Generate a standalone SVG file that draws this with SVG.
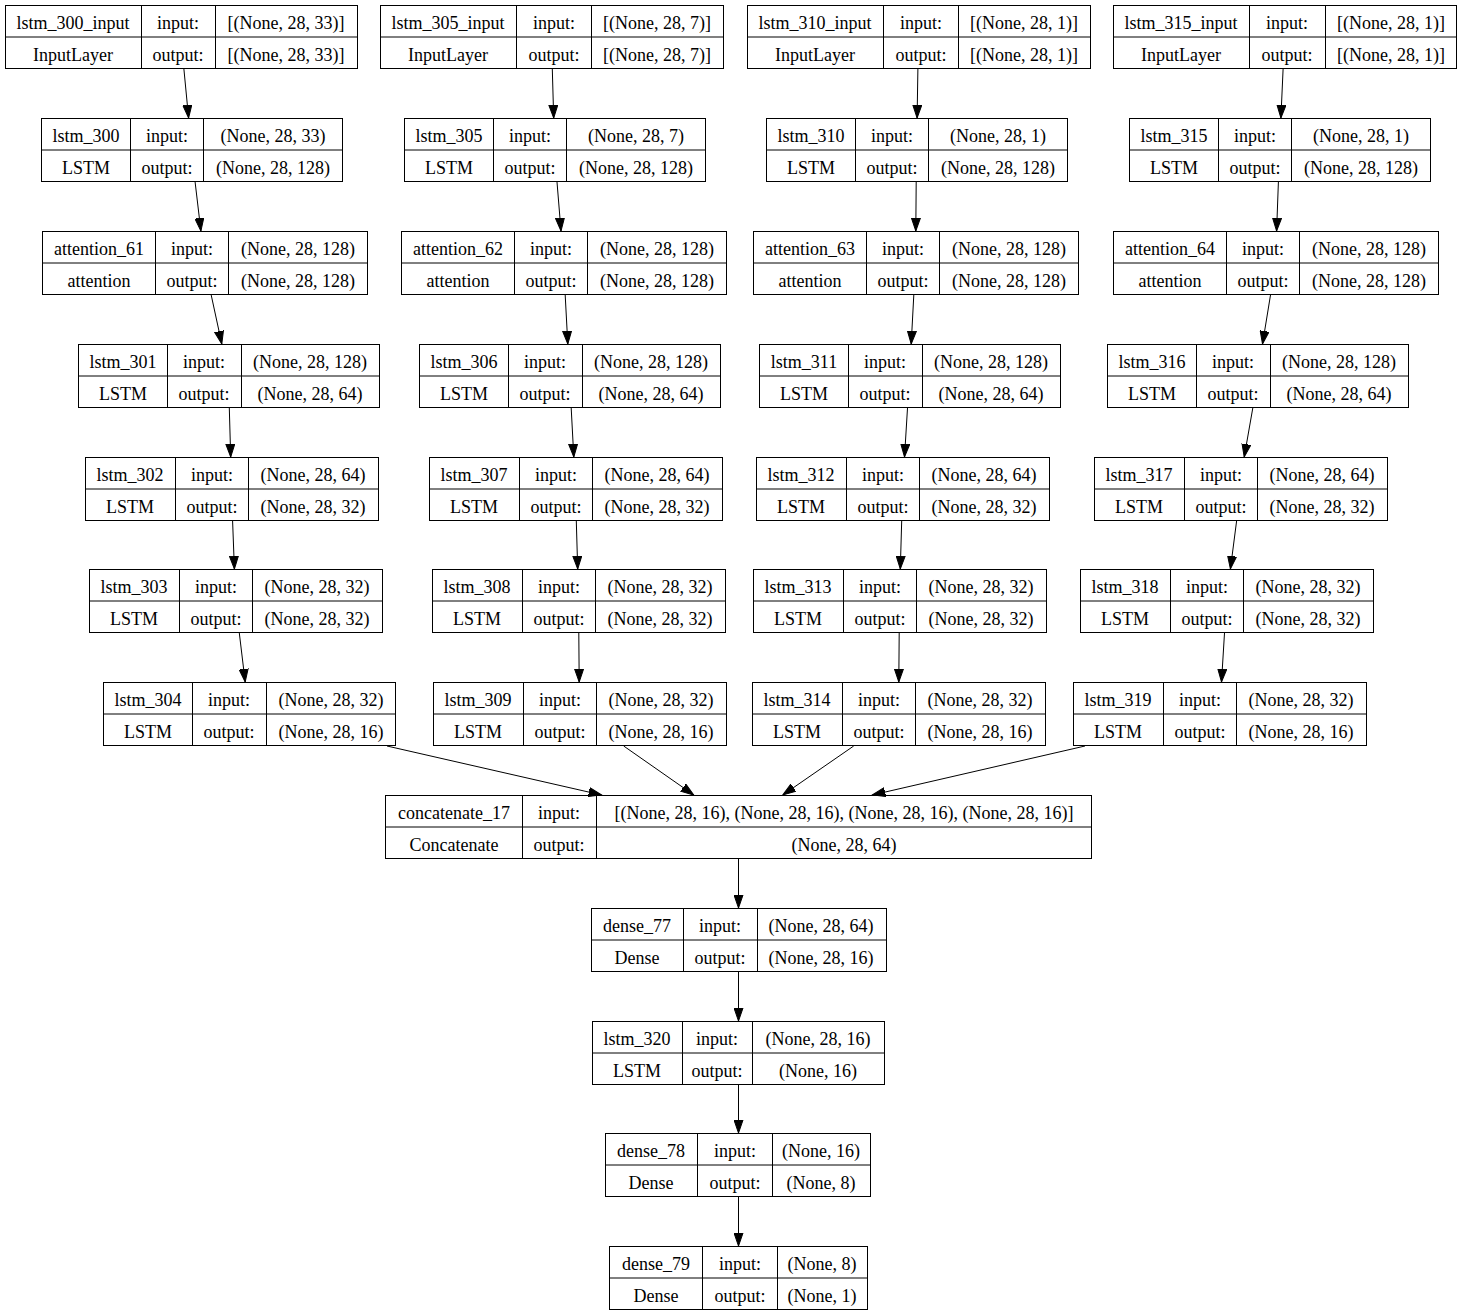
<svg xmlns="http://www.w3.org/2000/svg" width="1461" height="1315" viewBox="0 0 1461 1315">
<style>
  .bg { fill: #ffffff; }
  .box { fill: #ffffff; stroke: #000000; stroke-width: 1; }
  .sep { fill: none; stroke: #000000; stroke-width: 1; }
  .t { font-family: "Liberation Serif", "Times New Roman", serif; font-size: 18px; fill: #000000; text-anchor: middle; }
  .edge { stroke: #000000; stroke-width: 1; fill: none; marker-end: url(#arrow); }
</style>
<defs>
  <marker id="arrow" markerUnits="userSpaceOnUse" markerWidth="14" markerHeight="10" refX="13" refY="5" orient="auto">
    <path d="M0,0.5 L13,5 L0,9.5 z" fill="#000000" stroke="#000000" stroke-width="1"/>
  </marker>
</defs>
<rect class="bg" x="0" y="0" width="1461" height="1315"/>

<!-- column 1 -->
<g id="lstm_300_input">
  <rect class="box" x="5.5" y="5.5" width="352" height="63"/>
  <path class="sep" d="M141.5,5.5 V68.5 M215.5,5.5 V68.5 M5.5,37 H357.5"/>
  <text class="t" x="73" y="29">lstm_300_input</text><text class="t" x="178" y="29">input:</text><text class="t" x="286" y="29">[(None, 28, 33)]</text>
  <text class="t" x="73" y="61">InputLayer</text><text class="t" x="178" y="61">output:</text><text class="t" x="286" y="61">[(None, 28, 33)]</text>
</g>
<g id="lstm_300">
  <rect class="box" x="41.5" y="118.5" width="301" height="63"/>
  <path class="sep" d="M130.5,118.5 V181.5 M203.5,118.5 V181.5 M41.5,150 H342.5"/>
  <text class="t" x="86" y="142">lstm_300</text><text class="t" x="167" y="142">input:</text><text class="t" x="273" y="142">(None, 28, 33)</text>
  <text class="t" x="86" y="174">LSTM</text><text class="t" x="167" y="174">output:</text><text class="t" x="273" y="174">(None, 28, 128)</text>
</g>
<g id="attention_61">
  <rect class="box" x="42.5" y="231.5" width="325" height="63"/>
  <path class="sep" d="M155.5,231.5 V294.5 M228.5,231.5 V294.5 M42.5,263 H367.5"/>
  <text class="t" x="99" y="255">attention_61</text><text class="t" x="192" y="255">input:</text><text class="t" x="298" y="255">(None, 28, 128)</text>
  <text class="t" x="99" y="287">attention</text><text class="t" x="192" y="287">output:</text><text class="t" x="298" y="287">(None, 28, 128)</text>
</g>
<g id="lstm_301">
  <rect class="box" x="78.5" y="344.5" width="301" height="63"/>
  <path class="sep" d="M167.5,344.5 V407.5 M241.5,344.5 V407.5 M78.5,376 H379.5"/>
  <text class="t" x="123" y="368">lstm_301</text><text class="t" x="204" y="368">input:</text><text class="t" x="310" y="368">(None, 28, 128)</text>
  <text class="t" x="123" y="400">LSTM</text><text class="t" x="204" y="400">output:</text><text class="t" x="310" y="400">(None, 28, 64)</text>
</g>
<g id="lstm_302">
  <rect class="box" x="85.5" y="457.5" width="293" height="63"/>
  <path class="sep" d="M175.5,457.5 V520.5 M248.5,457.5 V520.5 M85.5,489 H378.5"/>
  <text class="t" x="130" y="481">lstm_302</text><text class="t" x="212" y="481">input:</text><text class="t" x="313" y="481">(None, 28, 64)</text>
  <text class="t" x="130" y="513">LSTM</text><text class="t" x="212" y="513">output:</text><text class="t" x="313" y="513">(None, 28, 32)</text>
</g>
<g id="lstm_303">
  <rect class="box" x="89.5" y="569.5" width="293" height="63"/>
  <path class="sep" d="M179.5,569.5 V632.5 M252.5,569.5 V632.5 M89.5,601 H382.5"/>
  <text class="t" x="134" y="593">lstm_303</text><text class="t" x="216" y="593">input:</text><text class="t" x="317" y="593">(None, 28, 32)</text>
  <text class="t" x="134" y="625">LSTM</text><text class="t" x="216" y="625">output:</text><text class="t" x="317" y="625">(None, 28, 32)</text>
</g>
<g id="lstm_304">
  <rect class="box" x="103.5" y="682.5" width="292" height="63"/>
  <path class="sep" d="M192.5,682.5 V745.5 M266.5,682.5 V745.5 M103.5,714 H395.5"/>
  <text class="t" x="148" y="706">lstm_304</text><text class="t" x="229" y="706">input:</text><text class="t" x="331" y="706">(None, 28, 32)</text>
  <text class="t" x="148" y="738">LSTM</text><text class="t" x="229" y="738">output:</text><text class="t" x="331" y="738">(None, 28, 16)</text>
</g>

<!-- column 2 -->
<g id="lstm_305_input">
  <rect class="box" x="380.5" y="5.5" width="343" height="63"/>
  <path class="sep" d="M516.5,5.5 V68.5 M591.5,5.5 V68.5 M380.5,37 H723.5"/>
  <text class="t" x="448" y="29">lstm_305_input</text><text class="t" x="554" y="29">input:</text><text class="t" x="657" y="29">[(None, 28, 7)]</text>
  <text class="t" x="448" y="61">InputLayer</text><text class="t" x="554" y="61">output:</text><text class="t" x="657" y="61">[(None, 28, 7)]</text>
</g>
<g id="lstm_305">
  <rect class="box" x="404.5" y="118.5" width="301" height="63"/>
  <path class="sep" d="M493.5,118.5 V181.5 M566.5,118.5 V181.5 M404.5,150 H705.5"/>
  <text class="t" x="449" y="142">lstm_305</text><text class="t" x="530" y="142">input:</text><text class="t" x="636" y="142">(None, 28, 7)</text>
  <text class="t" x="449" y="174">LSTM</text><text class="t" x="530" y="174">output:</text><text class="t" x="636" y="174">(None, 28, 128)</text>
</g>
<g id="attention_62">
  <rect class="box" x="401.5" y="231.5" width="325" height="63"/>
  <path class="sep" d="M514.5,231.5 V294.5 M587.5,231.5 V294.5 M401.5,263 H726.5"/>
  <text class="t" x="458" y="255">attention_62</text><text class="t" x="551" y="255">input:</text><text class="t" x="657" y="255">(None, 28, 128)</text>
  <text class="t" x="458" y="287">attention</text><text class="t" x="551" y="287">output:</text><text class="t" x="657" y="287">(None, 28, 128)</text>
</g>
<g id="lstm_306">
  <rect class="box" x="419.5" y="344.5" width="301" height="63"/>
  <path class="sep" d="M508.5,344.5 V407.5 M582.5,344.5 V407.5 M419.5,376 H720.5"/>
  <text class="t" x="464" y="368">lstm_306</text><text class="t" x="545" y="368">input:</text><text class="t" x="651" y="368">(None, 28, 128)</text>
  <text class="t" x="464" y="400">LSTM</text><text class="t" x="545" y="400">output:</text><text class="t" x="651" y="400">(None, 28, 64)</text>
</g>
<g id="lstm_307">
  <rect class="box" x="429.5" y="457.5" width="293" height="63"/>
  <path class="sep" d="M519.5,457.5 V520.5 M592.5,457.5 V520.5 M429.5,489 H722.5"/>
  <text class="t" x="474" y="481">lstm_307</text><text class="t" x="556" y="481">input:</text><text class="t" x="657" y="481">(None, 28, 64)</text>
  <text class="t" x="474" y="513">LSTM</text><text class="t" x="556" y="513">output:</text><text class="t" x="657" y="513">(None, 28, 32)</text>
</g>
<g id="lstm_308">
  <rect class="box" x="432.5" y="569.5" width="293" height="63"/>
  <path class="sep" d="M522.5,569.5 V632.5 M595.5,569.5 V632.5 M432.5,601 H725.5"/>
  <text class="t" x="477" y="593">lstm_308</text><text class="t" x="559" y="593">input:</text><text class="t" x="660" y="593">(None, 28, 32)</text>
  <text class="t" x="477" y="625">LSTM</text><text class="t" x="559" y="625">output:</text><text class="t" x="660" y="625">(None, 28, 32)</text>
</g>
<g id="lstm_309">
  <rect class="box" x="433.5" y="682.5" width="293" height="63"/>
  <path class="sep" d="M523.5,682.5 V745.5 M596.5,682.5 V745.5 M433.5,714 H726.5"/>
  <text class="t" x="478" y="706">lstm_309</text><text class="t" x="560" y="706">input:</text><text class="t" x="661" y="706">(None, 28, 32)</text>
  <text class="t" x="478" y="738">LSTM</text><text class="t" x="560" y="738">output:</text><text class="t" x="661" y="738">(None, 28, 16)</text>
</g>

<!-- column 3 -->
<g id="lstm_310_input">
  <rect class="box" x="747.5" y="5.5" width="343" height="63"/>
  <path class="sep" d="M883.5,5.5 V68.5 M958.5,5.5 V68.5 M747.5,37 H1090.5"/>
  <text class="t" x="815" y="29">lstm_310_input</text><text class="t" x="921" y="29">input:</text><text class="t" x="1024" y="29">[(None, 28, 1)]</text>
  <text class="t" x="815" y="61">InputLayer</text><text class="t" x="921" y="61">output:</text><text class="t" x="1024" y="61">[(None, 28, 1)]</text>
</g>
<g id="lstm_310">
  <rect class="box" x="766.5" y="118.5" width="301" height="63"/>
  <path class="sep" d="M855.5,118.5 V181.5 M928.5,118.5 V181.5 M766.5,150 H1067.5"/>
  <text class="t" x="811" y="142">lstm_310</text><text class="t" x="892" y="142">input:</text><text class="t" x="998" y="142">(None, 28, 1)</text>
  <text class="t" x="811" y="174">LSTM</text><text class="t" x="892" y="174">output:</text><text class="t" x="998" y="174">(None, 28, 128)</text>
</g>
<g id="attention_63">
  <rect class="box" x="753.5" y="231.5" width="325" height="63"/>
  <path class="sep" d="M866.5,231.5 V294.5 M939.5,231.5 V294.5 M753.5,263 H1078.5"/>
  <text class="t" x="810" y="255">attention_63</text><text class="t" x="903" y="255">input:</text><text class="t" x="1009" y="255">(None, 28, 128)</text>
  <text class="t" x="810" y="287">attention</text><text class="t" x="903" y="287">output:</text><text class="t" x="1009" y="287">(None, 28, 128)</text>
</g>
<g id="lstm_311">
  <rect class="box" x="759.5" y="344.5" width="301" height="63"/>
  <path class="sep" d="M848.5,344.5 V407.5 M922.5,344.5 V407.5 M759.5,376 H1060.5"/>
  <text class="t" x="804" y="368">lstm_311</text><text class="t" x="885" y="368">input:</text><text class="t" x="991" y="368">(None, 28, 128)</text>
  <text class="t" x="804" y="400">LSTM</text><text class="t" x="885" y="400">output:</text><text class="t" x="991" y="400">(None, 28, 64)</text>
</g>
<g id="lstm_312">
  <rect class="box" x="756.5" y="457.5" width="293" height="63"/>
  <path class="sep" d="M846.5,457.5 V520.5 M919.5,457.5 V520.5 M756.5,489 H1049.5"/>
  <text class="t" x="801" y="481">lstm_312</text><text class="t" x="883" y="481">input:</text><text class="t" x="984" y="481">(None, 28, 64)</text>
  <text class="t" x="801" y="513">LSTM</text><text class="t" x="883" y="513">output:</text><text class="t" x="984" y="513">(None, 28, 32)</text>
</g>
<g id="lstm_313">
  <rect class="box" x="753.5" y="569.5" width="293" height="63"/>
  <path class="sep" d="M843.5,569.5 V632.5 M916.5,569.5 V632.5 M753.5,601 H1046.5"/>
  <text class="t" x="798" y="593">lstm_313</text><text class="t" x="880" y="593">input:</text><text class="t" x="981" y="593">(None, 28, 32)</text>
  <text class="t" x="798" y="625">LSTM</text><text class="t" x="880" y="625">output:</text><text class="t" x="981" y="625">(None, 28, 32)</text>
</g>
<g id="lstm_314">
  <rect class="box" x="752.5" y="682.5" width="293" height="63"/>
  <path class="sep" d="M842.5,682.5 V745.5 M915.5,682.5 V745.5 M752.5,714 H1045.5"/>
  <text class="t" x="797" y="706">lstm_314</text><text class="t" x="879" y="706">input:</text><text class="t" x="980" y="706">(None, 28, 32)</text>
  <text class="t" x="797" y="738">LSTM</text><text class="t" x="879" y="738">output:</text><text class="t" x="980" y="738">(None, 28, 16)</text>
</g>

<!-- column 4 -->
<g id="lstm_315_input">
  <rect class="box" x="1113.5" y="5.5" width="343" height="63"/>
  <path class="sep" d="M1249.5,5.5 V68.5 M1325.5,5.5 V68.5 M1113.5,37 H1456.5"/>
  <text class="t" x="1181" y="29">lstm_315_input</text><text class="t" x="1287" y="29">input:</text><text class="t" x="1391" y="29">[(None, 28, 1)]</text>
  <text class="t" x="1181" y="61">InputLayer</text><text class="t" x="1287" y="61">output:</text><text class="t" x="1391" y="61">[(None, 28, 1)]</text>
</g>
<g id="lstm_315">
  <rect class="box" x="1129.5" y="118.5" width="301" height="63"/>
  <path class="sep" d="M1218.5,118.5 V181.5 M1291.5,118.5 V181.5 M1129.5,150 H1430.5"/>
  <text class="t" x="1174" y="142">lstm_315</text><text class="t" x="1255" y="142">input:</text><text class="t" x="1361" y="142">(None, 28, 1)</text>
  <text class="t" x="1174" y="174">LSTM</text><text class="t" x="1255" y="174">output:</text><text class="t" x="1361" y="174">(None, 28, 128)</text>
</g>
<g id="attention_64">
  <rect class="box" x="1113.5" y="231.5" width="325" height="63"/>
  <path class="sep" d="M1226.5,231.5 V294.5 M1299.5,231.5 V294.5 M1113.5,263 H1438.5"/>
  <text class="t" x="1170" y="255">attention_64</text><text class="t" x="1263" y="255">input:</text><text class="t" x="1369" y="255">(None, 28, 128)</text>
  <text class="t" x="1170" y="287">attention</text><text class="t" x="1263" y="287">output:</text><text class="t" x="1369" y="287">(None, 28, 128)</text>
</g>
<g id="lstm_316">
  <rect class="box" x="1107.5" y="344.5" width="301" height="63"/>
  <path class="sep" d="M1196.5,344.5 V407.5 M1270.5,344.5 V407.5 M1107.5,376 H1408.5"/>
  <text class="t" x="1152" y="368">lstm_316</text><text class="t" x="1233" y="368">input:</text><text class="t" x="1339" y="368">(None, 28, 128)</text>
  <text class="t" x="1152" y="400">LSTM</text><text class="t" x="1233" y="400">output:</text><text class="t" x="1339" y="400">(None, 28, 64)</text>
</g>
<g id="lstm_317">
  <rect class="box" x="1094.5" y="457.5" width="293" height="63"/>
  <path class="sep" d="M1184.5,457.5 V520.5 M1257.5,457.5 V520.5 M1094.5,489 H1387.5"/>
  <text class="t" x="1139" y="481">lstm_317</text><text class="t" x="1221" y="481">input:</text><text class="t" x="1322" y="481">(None, 28, 64)</text>
  <text class="t" x="1139" y="513">LSTM</text><text class="t" x="1221" y="513">output:</text><text class="t" x="1322" y="513">(None, 28, 32)</text>
</g>
<g id="lstm_318">
  <rect class="box" x="1080.5" y="569.5" width="293" height="63"/>
  <path class="sep" d="M1170.5,569.5 V632.5 M1243.5,569.5 V632.5 M1080.5,601 H1373.5"/>
  <text class="t" x="1125" y="593">lstm_318</text><text class="t" x="1207" y="593">input:</text><text class="t" x="1308" y="593">(None, 28, 32)</text>
  <text class="t" x="1125" y="625">LSTM</text><text class="t" x="1207" y="625">output:</text><text class="t" x="1308" y="625">(None, 28, 32)</text>
</g>
<g id="lstm_319">
  <rect class="box" x="1073.5" y="682.5" width="293" height="63"/>
  <path class="sep" d="M1163.5,682.5 V745.5 M1236.5,682.5 V745.5 M1073.5,714 H1366.5"/>
  <text class="t" x="1118" y="706">lstm_319</text><text class="t" x="1200" y="706">input:</text><text class="t" x="1301" y="706">(None, 28, 32)</text>
  <text class="t" x="1118" y="738">LSTM</text><text class="t" x="1200" y="738">output:</text><text class="t" x="1301" y="738">(None, 28, 16)</text>
</g>

<!-- merge and head -->
<g id="concatenate_17">
  <rect class="box" x="385.5" y="795.5" width="706" height="63"/>
  <path class="sep" d="M522.5,795.5 V858.5 M596.5,795.5 V858.5 M385.5,827 H1091.5"/>
  <text class="t" x="454" y="819">concatenate_17</text><text class="t" x="559" y="819">input:</text><text class="t" x="844" y="819">[(None, 28, 16), (None, 28, 16), (None, 28, 16), (None, 28, 16)]</text>
  <text class="t" x="454" y="851">Concatenate</text><text class="t" x="559" y="851">output:</text><text class="t" x="844" y="851">(None, 28, 64)</text>
</g>
<g id="dense_77">
  <rect class="box" x="591.5" y="908.5" width="295" height="63"/>
  <path class="sep" d="M683.5,908.5 V971.5 M757.5,908.5 V971.5 M591.5,940 H886.5"/>
  <text class="t" x="637" y="932">dense_77</text><text class="t" x="720" y="932">input:</text><text class="t" x="821" y="932">(None, 28, 64)</text>
  <text class="t" x="637" y="964">Dense</text><text class="t" x="720" y="964">output:</text><text class="t" x="821" y="964">(None, 28, 16)</text>
</g>
<g id="lstm_320">
  <rect class="box" x="592.5" y="1021.5" width="292" height="63"/>
  <path class="sep" d="M682.5,1021.5 V1084.5 M752.5,1021.5 V1084.5 M592.5,1053 H884.5"/>
  <text class="t" x="637" y="1045">lstm_320</text><text class="t" x="717" y="1045">input:</text><text class="t" x="818" y="1045">(None, 28, 16)</text>
  <text class="t" x="637" y="1077">LSTM</text><text class="t" x="717" y="1077">output:</text><text class="t" x="818" y="1077">(None, 16)</text>
</g>
<g id="dense_78">
  <rect class="box" x="605.5" y="1133.5" width="265" height="63"/>
  <path class="sep" d="M697.5,1133.5 V1196.5 M772.5,1133.5 V1196.5 M605.5,1165 H870.5"/>
  <text class="t" x="651" y="1157">dense_78</text><text class="t" x="735" y="1157">input:</text><text class="t" x="821" y="1157">(None, 16)</text>
  <text class="t" x="651" y="1189">Dense</text><text class="t" x="735" y="1189">output:</text><text class="t" x="821" y="1189">(None, 8)</text>
</g>
<g id="dense_79">
  <rect class="box" x="609.5" y="1246.5" width="258" height="63"/>
  <path class="sep" d="M702.5,1246.5 V1309.5 M777.5,1246.5 V1309.5 M609.5,1278 H867.5"/>
  <text class="t" x="656" y="1270">dense_79</text><text class="t" x="740" y="1270">input:</text><text class="t" x="822" y="1270">(None, 8)</text>
  <text class="t" x="656" y="1302">Dense</text><text class="t" x="740" y="1302">output:</text><text class="t" x="822" y="1302">(None, 1)</text>
</g>

<!-- connectors -->
<g id="edges">
  <line class="edge" x1="183.9" y1="69" x2="188.6" y2="118"/>
  <line class="edge" x1="195.1" y1="182" x2="200.9" y2="231"/>
  <line class="edge" x1="211.2" y1="295" x2="221.8" y2="344"/>
  <line class="edge" x1="229.3" y1="408" x2="230.7" y2="457"/>
  <line class="edge" x1="232.6" y1="521" x2="234.4" y2="569"/>
  <line class="edge" x1="239.3" y1="633" x2="245.2" y2="682"/>
  <line class="edge" x1="387" y1="746" x2="601.6" y2="795"/>

  <line class="edge" x1="552.3" y1="69" x2="553.7" y2="118"/>
  <line class="edge" x1="557.0" y1="182" x2="561.0" y2="231"/>
  <line class="edge" x1="565.2" y1="295" x2="567.8" y2="344"/>
  <line class="edge" x1="571.2" y1="408" x2="573.8" y2="457"/>
  <line class="edge" x1="576.3" y1="521" x2="577.7" y2="569"/>
  <line class="edge" x1="578.8" y1="633" x2="579.2" y2="682"/>
  <line class="edge" x1="623.7" y1="746" x2="693.8" y2="795"/>

  <line class="edge" x1="917.9" y1="69" x2="917.1" y2="118"/>
  <line class="edge" x1="916.2" y1="182" x2="915.8" y2="231"/>
  <line class="edge" x1="913.8" y1="295" x2="911.2" y2="344"/>
  <line class="edge" x1="907.5" y1="408" x2="904.5" y2="457"/>
  <line class="edge" x1="901.7" y1="521" x2="900.3" y2="569"/>
  <line class="edge" x1="899.2" y1="633" x2="898.8" y2="682"/>
  <line class="edge" x1="853.7" y1="746" x2="782.8" y2="795"/>

  <line class="edge" x1="1283.1" y1="69" x2="1280.9" y2="118"/>
  <line class="edge" x1="1278.4" y1="182" x2="1276.6" y2="231"/>
  <line class="edge" x1="1270.5" y1="295" x2="1262.5" y2="344"/>
  <line class="edge" x1="1252.8" y1="408" x2="1244.2" y2="457"/>
  <line class="edge" x1="1236.6" y1="521" x2="1230.4" y2="569"/>
  <line class="edge" x1="1224.5" y1="633" x2="1221.5" y2="682"/>
  <line class="edge" x1="1085" y1="746" x2="872.3" y2="795"/>

  <line class="edge" x1="738.5" y1="859" x2="738.5" y2="908"/>
  <line class="edge" x1="738.5" y1="972" x2="738.5" y2="1021"/>
  <line class="edge" x1="738.5" y1="1085" x2="738.5" y2="1133"/>
  <line class="edge" x1="738.5" y1="1197" x2="738.5" y2="1246"/>
</g>
</svg>
